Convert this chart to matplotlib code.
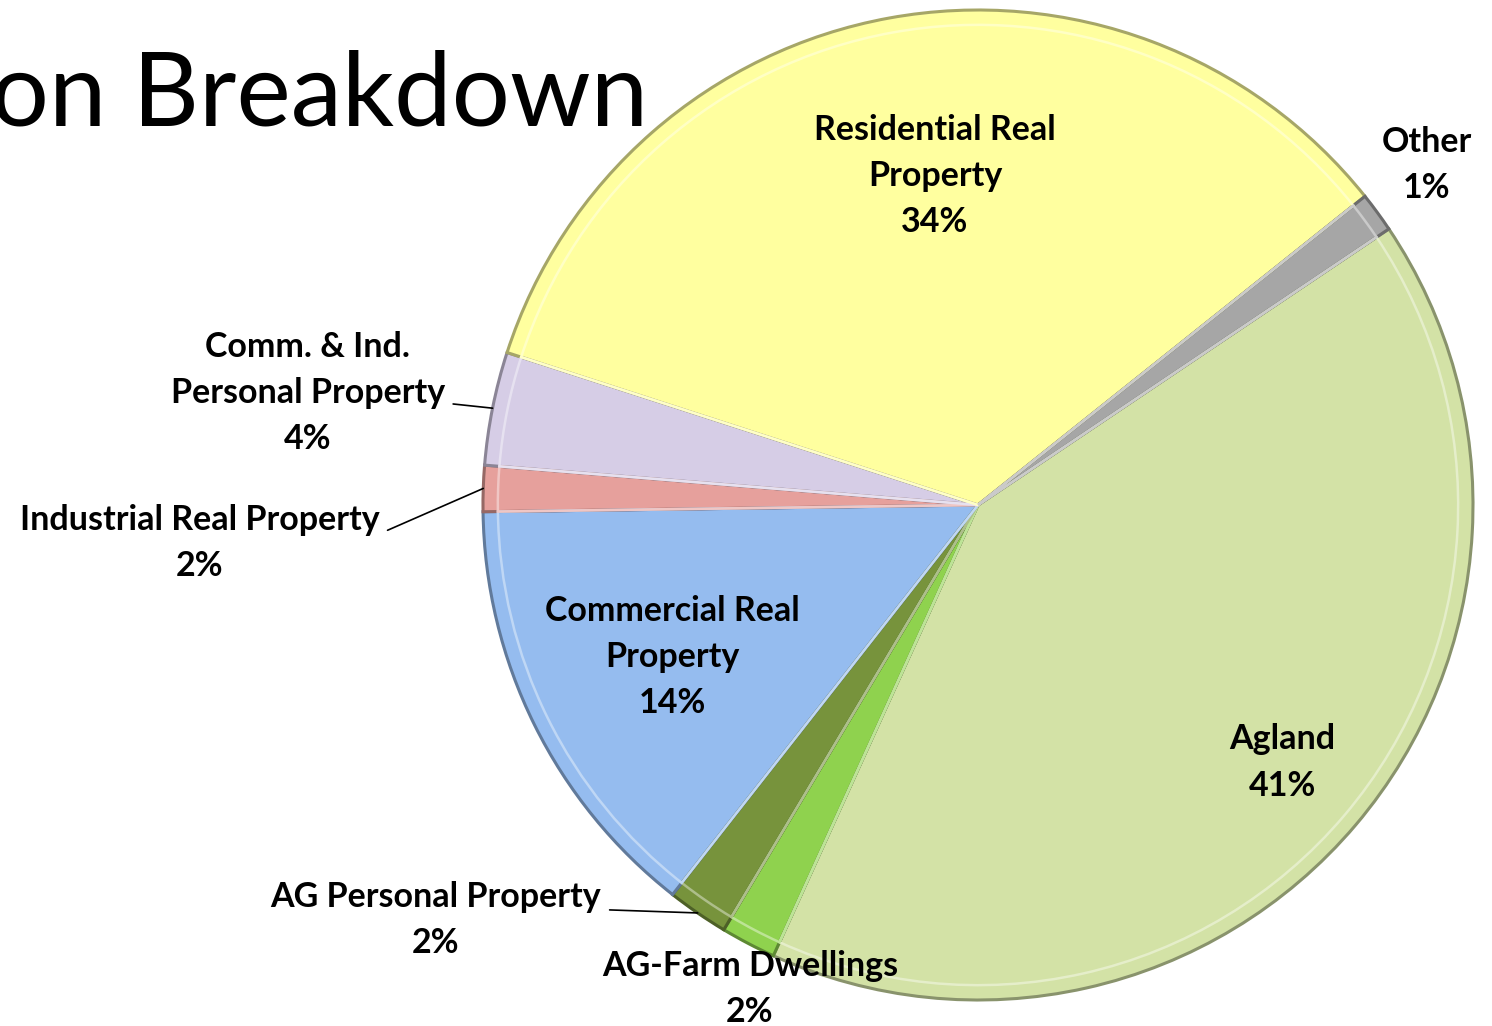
import matplotlib
matplotlib.use('Agg')
import matplotlib.pyplot as plt
import matplotlib.colors as mcolors

import numpy as np

categories = ['Agland', 'AG-Farm Dwellings', 'AG Personal Property', 'Commercial Real\nProperty',
              'Industrial Real Property', 'Comm. & Ind.\nPersonal Property', 'Residential Real\nProperty',
              'Other']
shares = [41.2, 1.8, 2.0, 14.2, 1.5, 3.7, 34.3, 1.3]
colors = ['#d3e2a6', '#8fd24e', '#77933c', '#95bcef', '#e6a09c', '#d6cde6', '#ffff9f', '#a6a6a6']

# label placement (axes data units, pie radius = 1) and leader line anchors
label_pos = [(0.615, -0.52), (-0.461, -0.978), (-1.095, -0.838), (-0.618, -0.307),
             (-1.572, -0.077), (-1.354, 0.226), (-0.087, 0.665), (0.907, 0.687)]
leaders = [None, None, (1.0, 0.63), None, (1.0, 0.62), (1.0, 0.42), None, None]


def shade(c, f):
    r, g, b = mcolors.to_rgb(c)
    if f < 1:
        return (r * f, g * f, b * f)
    return tuple(x + (1 - x) * (f - 1) for x in (r, g, b))


plt.rcParams['font.family'] = ['Lato', 'DejaVu Sans']

fig = plt.figure(figsize=(14.92, 10.26), dpi=100)
ax = fig.add_axes([483 / 1492, 26 / 1026, 990 / 1492, 990 / 1026])

wedges, _ = ax.pie(shares, colors=colors, startangle=33.9, counterclock=False, radius=1.0)
for w, c in zip(wedges, colors):
    w.set_edgecolor(shade(c, 0.65))
    w.set_linewidth(2.2)

# light inner bevel
inner, _ = ax.pie(shares, colors=colors, startangle=33.9, counterclock=False, radius=0.97)
for w, c in zip(inner, colors):
    w.set_facecolor('none')
    w.set_edgecolor(shade(c, 1.4))
    w.set_linewidth(1.8)

ax.set_xlim(-1, 1)
ax.set_ylim(-1, 1)
ax.axis('off')

for w, name, share, pos, lead in zip(wedges, categories, shares, label_pos, leaders):
    text = f'{name}\n{share:.0f}%'
    style = dict(ha='center', va='center', fontsize=24.5, fontweight='bold', linespacing=1.55)
    if lead is None:
        ax.text(pos[0], pos[1], text, clip_on=False, **style)
    else:
        theta = np.deg2rad((w.theta1 + w.theta2) / 2)
        ax.annotate(text, xy=(np.cos(theta), np.sin(theta)), xytext=pos,
                    annotation_clip=False,
                    arrowprops=dict(arrowstyle='-', color='black', lw=1.2,
                                    relpos=lead, shrinkA=4, shrinkB=0), **style)

fig.text(648 / 1492, 1 - 125 / 1026, 'Valuation Breakdown', ha='right', va='baseline',
         fontsize=74, color='black')

fig.savefig('out.png', dpi=100)
